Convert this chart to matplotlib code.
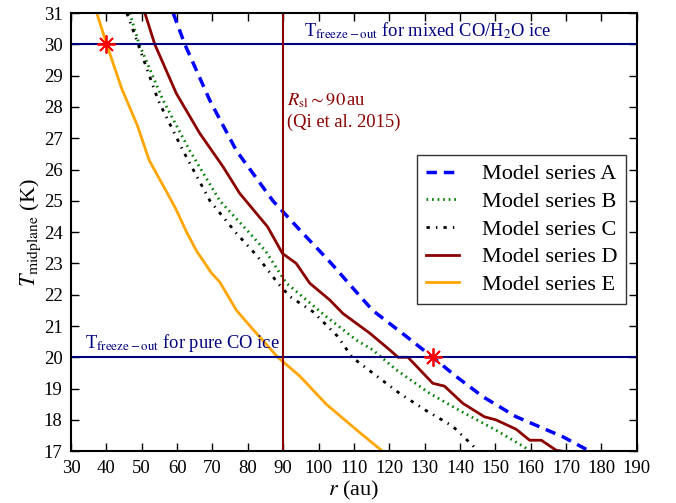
import numpy as np
import matplotlib
matplotlib.use('Agg')
import matplotlib.pyplot as plt

plt.rcParams['font.family'] = 'serif'
plt.rcParams['font.serif'] = ['Liberation Serif', 'DejaVu Serif']
plt.rcParams['mathtext.fontset'] = 'stix'

# Radius (au) and midplane temperature (K)
r_A = [58.9, 62.2, 69.3, 76.8, 87.1, 95.6, 100.3, 103.6, 110.2, 115.3, 124.8,
       132.3, 139.0, 146.5, 155.9, 169.1, 176.2, 177.0]
T_A = [31.0, 30.0, 28.2, 26.6, 25.0, 23.96, 23.4, 23.0, 22.15, 21.5, 20.67,
       20.0, 19.38, 18.74, 18.1, 17.46, 17.03, 17.0]

r_B = [46.6, 49.3, 56.1, 63.6, 72.1, 80.6, 85.0, 90.9, 102.2, 110.7, 115.3,
       122.0, 131.4, 139.9, 150.2, 159.7]
T_B = [31.0, 30.0, 28.2, 26.6, 25.0, 23.96, 23.4, 22.37, 21.3, 20.55, 20.24,
       19.6, 18.85, 18.3, 17.67, 17.03]

r_C = [45.8, 49.0, 54.7, 61.7, 69.3, 76.8, 82.4, 88.5, 91.9, 98.4, 105.4,
       109.5, 115.3, 122.9, 130.4, 137.9, 145.0]
T_C = [31.0, 30.0, 28.2, 26.6, 25.0, 23.96, 23.27, 22.37, 21.94, 21.46, 20.67,
       20.0, 19.5, 18.85, 18.3, 17.8, 17.03]

r_D = [50.9, 53.7, 59.8, 66.4, 73.0, 77.7, 85.6, 89.8, 93.7, 97.5, 103.2,
       106.9, 114.5, 120.1, 122.5, 125.3, 132.3, 135.6, 140.8, 146.9, 150.2,
       155.9, 159.7, 163.0, 167.2, 169.0]
T_D = [31.0, 30.0, 28.43, 27.16, 26.09, 25.24, 24.17, 23.32, 23.0, 22.37, 21.83,
       21.4, 20.77, 20.24, 20.0, 20.0, 19.17, 19.08, 18.53, 18.1, 18.0,
       17.7, 17.35, 17.35, 17.03, 17.0]

r_E = [37.3, 40.1, 44.3, 48.8, 52.1, 59.4, 62.7, 65.5, 69.7, 72.1, 76.8,
       81.4, 88.5, 94.7, 102.2, 111.6, 118.1]
T_E = [31.0, 30.0, 28.6, 27.4, 26.3, 24.8, 24.0, 23.4, 22.7, 22.4, 21.5,
       20.9, 20.0, 19.4, 18.5, 17.6, 17.0]

labels = ['Model series A', 'Model series B', 'Model series C',
          'Model series D', 'Model series E']

T_mixed = 30.0   # mixed CO/H2O ice
T_pure = 20.0    # pure CO ice
R_sl = 90.0      # snowline (Qi et al. 2015)
star_r = [40.0, 132.5]
star_T = [30.0, 20.0]

fig = plt.figure(figsize=(6.76, 5.03), dpi=100)
ax = fig.add_axes([0.105, 0.103, 0.837, 0.871])

ax.plot(r_A, T_A, ls='--', dashes=(3, 2), lw=2.5, c='blue', label=labels[0])
ax.plot(r_B, T_B, ls=':', dashes=(0.6, 1.4), lw=2, c='green', label=labels[1])
ax.plot(r_C, T_C, ls='-.', dashes=(1.2, 2.2, 0.5, 2.2), lw=2, c='black',
        label=labels[2])
ax.plot(r_D, T_D, ls='-', lw=2, c='darkred', label=labels[3])
ax.plot(r_E, T_E, ls='-', lw=2, c='orange', label=labels[4])

ax.axhline(T_mixed, c='navy', lw=1.5)
ax.axhline(T_pure, c='navy', lw=1.5)
ax.axvline(R_sl, c='darkred', lw=1.5)
ax.plot(star_r, star_T, ls='none', marker=(8, 2, 0), ms=13, mew=1.3, c='red')

ax.text(131, 30.1, r'T$_{\rm freeze-out}$ for mixed CO/H$_2$O ice',
        color='navy', fontsize=13.3, ha='center', va='bottom')
ax.text(34, 20.1, r'T$_{\rm freeze-out}$ for pure CO ice',
        color='navy', fontsize=13.3, ha='left', va='bottom')
ax.text(91, 28.2, r'$R_{\rm sl} \sim 90\,$au', color='darkred',
        fontsize=13.3, ha='left', va='center')
ax.text(91, 27.5, '(Qi et al. 2015)', color='darkred',
        fontsize=13.3, ha='left', va='center')

ax.set_xlim(30, 190)
ax.set_ylim(17, 31)
ax.set_xticks(np.arange(30, 191, 10))
ax.set_yticks(np.arange(17, 32, 1))
ax.tick_params(direction='in', top=True, right=True, length=6, width=1,
               labelsize=13.5, pad=6)
for s in ax.spines.values():
    s.set_linewidth(1.5)

ax.set_xlabel(r'$r$ (au)', fontsize=16, labelpad=2)
ax.set_ylabel(r'$T_{\rm midplane}$ (K)', fontsize=16, labelpad=1)

leg = ax.legend(loc='upper right', bbox_to_anchor=(0.981, 0.676),
                borderaxespad=0, fontsize=16, handlelength=1.5,
                handletextpad=1.0, labelspacing=0.32, fancybox=False,
                edgecolor='0.2', framealpha=1)
leg.get_frame().set_linewidth(1.0)

fig.savefig('out.png', dpi=100)
